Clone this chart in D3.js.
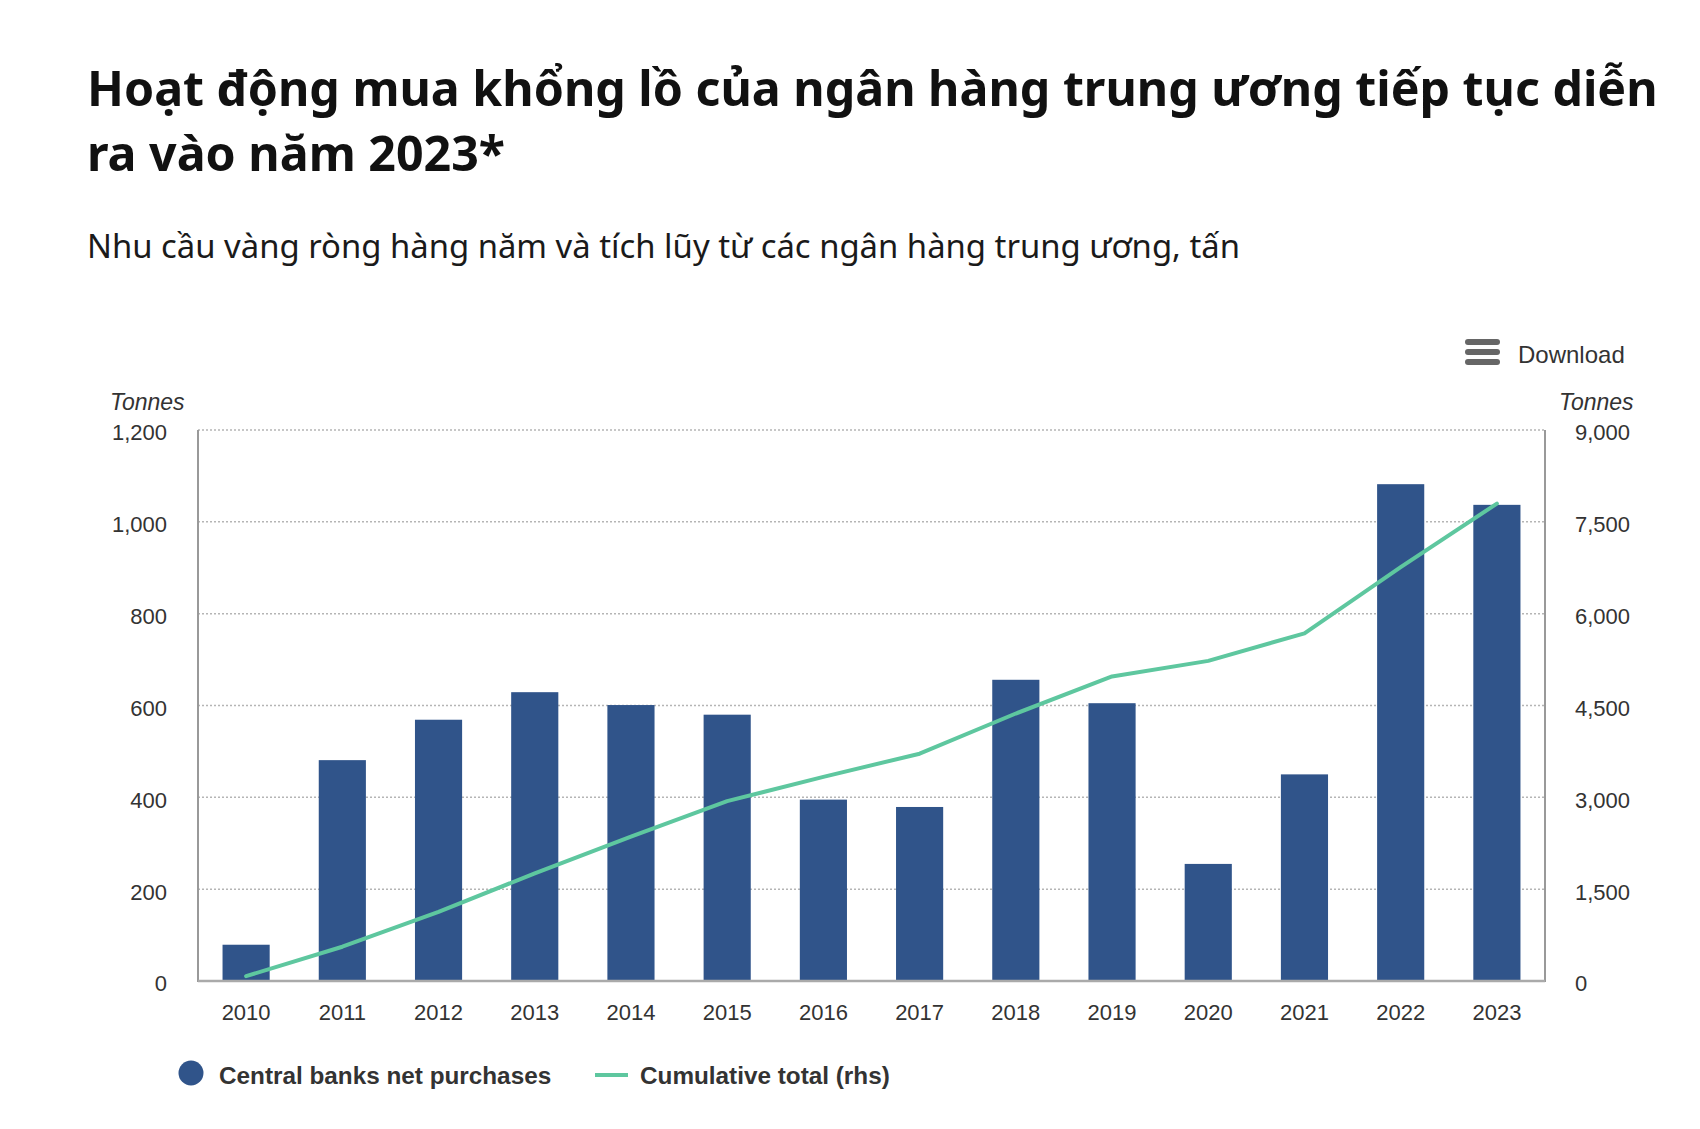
<!DOCTYPE html>
<html>
<head>
<meta charset="utf-8">
<script src="https://cdn.jsdelivr.net/npm/d3@7"></script>
<style>
  html, body { margin: 0; padding: 0; background: #fff; }
  svg { display: block; }
</style>
</head>
<body>
<svg id="chart" width="1700" height="1129"></svg>
<script>
const years = ["2010","2011","2012","2013","2014","2015","2016","2017","2018","2019","2020","2021","2022","2023"];
const netPurchases = [79, 481, 569, 629, 601, 580, 395, 379, 656, 605, 255, 450, 1082, 1037];
const cumulative = [79, 560, 1129, 1758, 2359, 2939, 3334, 3713, 4369, 4974, 5229, 5679, 6761, 7798];
const leftTicks = [0, 200, 400, 600, 800, 1000, 1200];
const rightTicks = [0, 1500, 3000, 4500, 6000, 7500, 9000];
const titleLines = ["Hoạt động mua khổng lồ của ngân hàng trung ương tiếp tục diễn", "ra vào năm 2023*"];
const subtitle = "Nhu cầu vàng ròng hàng năm và tích lũy từ các ngân hàng trung ương, tấn";
const seriesNames = ["Central banks net purchases", "Cumulative total (rhs)"];

const barColor = "#30548a";
const lineColor = "#5ec79f";
const textColor = "#333333";

const svg = d3.select("#chart");
const plot = { left: 198, right: 1545, top: 430, bottom: 981 };

// Title and subtitle
svg.append("g").selectAll("text").data(titleLines).join("text")
  .attr("x", 87).attr("y", (d, i) => 106 + i * 65)
  .attr("font-family", "'Noto Sans', 'Open Sans', sans-serif")
  .attr("font-weight", 700).attr("font-size", 48.3).attr("fill", "#111")
  .text(d => d);
svg.append("text").attr("x", 87).attr("y", 258)
  .attr("font-family", "'Noto Sans', 'Open Sans', sans-serif")
  .attr("font-size", 32.85).attr("fill", "#1a1a1a").text(subtitle);

// Download button
const dl = svg.append("g");
[342, 352, 362].forEach(y => dl.append("line")
  .attr("x1", 1468).attr("x2", 1497).attr("y1", y).attr("y2", y)
  .attr("stroke", "#666").attr("stroke-width", 6).attr("stroke-linecap", "round"));
dl.append("text").attr("x", 1518).attr("y", 363)
  .attr("font-family", "'Liberation Sans', Arial, sans-serif").attr("font-size", 24)
  .attr("fill", textColor).text("Download");

// Scales
const x = d3.scaleBand().domain(years).range([plot.left, plot.right]).paddingInner(0.51).paddingOuter(0.255);
const yL = d3.scaleLinear().domain([0, 1200]).range([plot.bottom, plot.top]);
const yR = d3.scaleLinear().domain([0, 9000]).range([plot.bottom, plot.top]);

// Gridlines
svg.append("g").selectAll("line").data(leftTicks.filter(t => t > 0)).join("line")
  .attr("x1", plot.left).attr("x2", plot.right)
  .attr("y1", d => yL(d)).attr("y2", d => yL(d))
  .attr("stroke", "#b5b5b5").attr("stroke-width", 1.5).attr("stroke-dasharray", "2,2");

// Axes
const font = "'Liberation Sans', Arial, sans-serif";
const leftAxis = svg.append("g").attr("transform", `translate(${plot.left},0)`)
  .call(d3.axisLeft(yL).tickValues(leftTicks).tickSize(0).tickPadding(31).tickFormat(d3.format(",")));
const rightAxis = svg.append("g").attr("transform", `translate(${plot.right},0)`)
  .call(d3.axisRight(yR).tickValues(rightTicks).tickSize(0).tickPadding(30).tickFormat(d3.format(",")));
const bottomAxis = svg.append("g").attr("transform", `translate(0,${plot.bottom})`)
  .call(d3.axisBottom(x).tickSize(0).tickPadding(23));
[leftAxis, rightAxis, bottomAxis].forEach(a => {
  a.selectAll("text").attr("font-family", font).attr("font-size", 22).attr("fill", textColor);
  a.select(".domain").remove();
});
leftAxis.selectAll("text").attr("dy", "0.45em");
rightAxis.selectAll("text").attr("dy", "0.45em");

// Axis titles
svg.append("text").attr("x", 110).attr("y", 410).attr("font-family", font).attr("font-size", 23)
  .attr("font-style", "italic").attr("fill", textColor).text("Tonnes");
svg.append("text").attr("x", 1559).attr("y", 410).attr("font-family", font).attr("font-size", 23)
  .attr("font-style", "italic").attr("fill", textColor).text("Tonnes");

// Bars
svg.append("g").selectAll("rect").data(years).join("rect")
  .attr("x", d => x(d)).attr("width", x.bandwidth())
  .attr("y", (d, i) => yL(netPurchases[i]))
  .attr("height", (d, i) => yL(0) - yL(netPurchases[i]))
  .attr("fill", barColor);

// Axis lines
svg.append("line").attr("x1", plot.left).attr("x2", plot.left).attr("y1", plot.top).attr("y2", plot.bottom + 1)
  .attr("stroke", "#999").attr("stroke-width", 2);
svg.append("line").attr("x1", plot.right).attr("x2", plot.right).attr("y1", plot.top).attr("y2", plot.bottom + 1)
  .attr("stroke", "#999").attr("stroke-width", 2);
svg.append("line").attr("x1", plot.left).attr("x2", plot.right).attr("y1", plot.bottom).attr("y2", plot.bottom)
  .attr("stroke", "#aaa").attr("stroke-width", 2.5);

// Cumulative line
const line = d3.line()
  .x((d, i) => x(years[i]) + x.bandwidth() / 2)
  .y(d => yR(d));
svg.append("path").datum(cumulative).attr("d", line)
  .attr("fill", "none").attr("stroke", lineColor).attr("stroke-width", 4)
  .attr("stroke-linejoin", "round").attr("stroke-linecap", "round");

// Legend
const lg = svg.append("g");
lg.append("circle").attr("cx", 191).attr("cy", 1073).attr("r", 12.5).attr("fill", barColor);
lg.append("text").attr("x", 219).attr("y", 1084).attr("font-family", font).attr("font-weight", 700)
  .attr("font-size", 24.3).attr("fill", textColor).text(seriesNames[0]);
lg.append("line").attr("x1", 595).attr("x2", 628).attr("y1", 1075).attr("y2", 1075)
  .attr("stroke", lineColor).attr("stroke-width", 4);
lg.append("text").attr("x", 640).attr("y", 1084).attr("font-family", font).attr("font-weight", 700)
  .attr("font-size", 24.3).attr("fill", textColor).text(seriesNames[1]);
</script>
</body>
</html>
